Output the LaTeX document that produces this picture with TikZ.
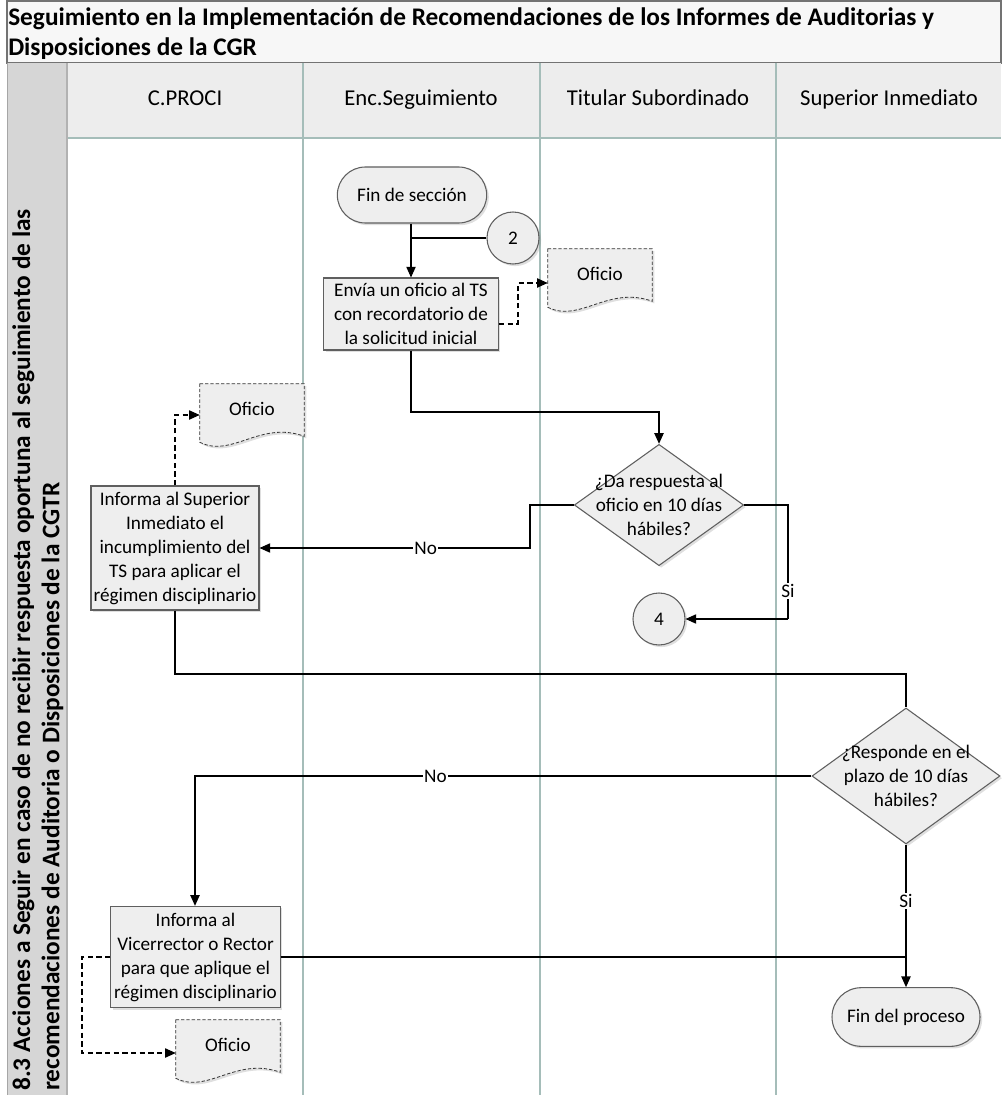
\documentclass[tikz,border=0pt]{standalone}
\usepackage{fontspec}
\setmainfont{Carlito}
\usetikzlibrary{shapes.geometric,shapes.misc,arrows.meta,calc,shadows}
\definecolor{laneC}{HTML}{A5BDB9}
\definecolor{hdrF}{HTML}{EDEDED}
\definecolor{stripF}{HTML}{D6D6D6}
\definecolor{shapeF}{HTML}{EEEEEE}
\definecolor{shapeD}{HTML}{5F5F5F}
\definecolor{titleF}{HTML}{F7F7F7}
\newcommand{\docshapepath}[1]{%
  \draw[docline] (#1.north west) -- (#1.north east) -- ($(#1.south east)+(0,-12)$)
    .. controls ($(#1.south)+(8,-28)$) and ($(#1.south)+(-20,10)$) .. ($(#1.south west)+(0,-6)$) -- cycle;
  \node[doctext] at (#1) {Oficio};}
\begin{document}
\begin{tikzpicture}[x=0.75pt,y=-0.75pt,
  nodefont/.style={font=\fontsize{14.4}{18}\selectfont},
  hdrfont/.style={font=\fontsize{17}{20}\selectfont},
  lane/.style={draw=laneC, line width=0.9pt},
  softshadow/.style={drop shadow={opacity=0.25, shadow xshift=1.6pt, shadow yshift=-1.6pt}},
  procbox/.style={draw=shapeD, fill=shapeF, line width=0.8pt, softshadow, align=center, inner sep=0pt, nodefont},
  termbox/.style={rounded rectangle, draw=shapeD, fill=shapeF, line width=0.8pt, softshadow, inner sep=0pt, nodefont},
  decbox/.style={diamond, draw=shapeD, fill=shapeF, line width=0.8pt, softshadow, inner sep=0pt},
  dectext/.style={align=center, inner sep=0pt, nodefont},
  connbox/.style={circle, draw=shapeD, fill=shapeF, line width=0.8pt, softshadow, inner sep=0pt, minimum size=39pt, nodefont},
  docnode/.style={inner sep=0pt, minimum width=78pt, minimum height=48pt},
  docline/.style={draw=black!80, dashed, dash pattern=on 2.5pt off 1.5pt, fill=shapeF, line width=0.6pt, softshadow},
  doctext/.style={nodefont, yshift=5pt},
  flow/.style={draw=black, line width=0.8pt, -{Triangle[length=8pt,width=7pt]}},
  flowplain/.style={draw=black, line width=0.8pt},
  dashflow/.style={draw=black, line width=0.8pt, dashed, dash pattern=on 4pt off 2.5pt, -{Triangle[length=8pt,width=7pt]}},
  lbl/.style={fill=white, inner sep=1pt, nodefont}
]
\useasboundingbox (0,0) rectangle (1002,1095);
% title
\draw[draw=black!55, fill=titleF, line width=0.8pt] (7,1) rectangle (1001,63);
\node[anchor=west, align=left, inner sep=0pt, font=\fontsize{19}{22.5}\selectfont\bfseries] (title) at (8,34)
  {Seguimiento en la Implementación de Recomendaciones de los Informes de Auditorias y\\Disposiciones de la CGR};
% header row and strip
\fill[hdrF] (67,63) rectangle (1001,138);
\fill[stripF] (7,63) rectangle (67,1095);
\draw[draw=black!35, line width=0.6pt] (7,63) -- (7,1095);
\draw[lane] (67,138) -- (1001,138);
\draw[draw=black!30, line width=0.8pt] (67,63) -- (67,1095);
\foreach \xx in {303,540,776} \draw[lane] (\xx,63) -- (\xx,1095);
\node[hdrfont, anchor=base] (h1) at (185,106) {C.PROCI};
\node[hdrfont, anchor=base] (h2) at (421,106) {Enc.Seguimiento};
\node[hdrfont, anchor=base] (h3) at (658,106) {Titular Subordinado};
\node[hdrfont, anchor=base] (h4) at (889,106) {Superior Inmediato};
% pool label
\node[rotate=90, anchor=north west, align=left, inner sep=0pt, font=\fontsize{19}{22}\selectfont\bfseries] (pool) at (12,1091)
  {8.3 Acciones a Seguir en caso de no recibir respuesta oportuna al seguimiento de las\\recomendaciones de Auditoria o Disposiciones de la CGTR};
% shapes
\node[termbox, minimum width=112pt, minimum height=42pt] (fin1) at (412,195) {Fin de sección};
\node[connbox] (c2) at (513,238) {2};
\node[procbox, minimum width=131pt, minimum height=54pt] (p1) at (411,314) {Envía un oficio al TS\\con recordatorio de\\la solicitud inicial};
\node[docnode] (doc1) at (600,281) {};
\docshapepath{doc1}
\node[decbox, minimum width=127pt, minimum height=91pt] (d1) at (659,505) {};
\node[dectext] (d1t) at (659,505) {¿Da respuesta al\\oficio en 10 días\\hábiles?};
\node[connbox] (c4) at (659,619) {4};
\node[procbox, minimum width=126pt, minimum height=93pt] (p2) at (175,548) {Informa al Superior\\Inmediato el\\incumplimiento del\\TS para aplicar el\\régimen disciplinario};
\node[docnode] (doc2) at (252,416) {};
\docshapepath{doc2}
\node[decbox, minimum width=141pt, minimum height=102pt] (d2) at (906,776) {};
\node[dectext] (d2t) at (906,776) {¿Responde en el\\plazo de 10 días\\hábiles?};
\node[procbox, minimum width=127pt, minimum height=76pt] (p3) at (195.5,957) {Informa al\\Vicerrector o Rector\\para que aplique el\\régimen disciplinario};
\node[docnode] (doc3) at (228,1052) {};
\docshapepath{doc3}
\node[termbox, minimum width=111pt, minimum height=44pt] (fin2) at (906,1017) {Fin del proceso};
% connectors
\draw[flow] (fin1.south -| p1.north) -- (p1.north);
\draw[flowplain] (c2.west) -- (c2.west -| p1.north);
\draw[dashflow] (p1.east |- 0,324) -- (518,324) -- (518,283) -- (doc1.west |- 0,283);
\draw[flow] (p1.south) -- (411,412) -- (659,412) -- (d1.north);
\draw[flowplain] (d1.west) -- (530,505) -- (530,548) -- node[lbl, pos=0.66] (no1) {No} (372,548);
\draw[flow] (372,548) -- (p2.east |- 0,548);
\draw[flowplain] (d1.east) -- (788,505) -- node[lbl, pos=0.75] (si1) {Si} (788,619);
\draw[flow] (788,619) -- (c4.east);
\draw[dashflow] (p2.north) -- (175,415) -- (doc2.west |- 0,415);
\draw[flowplain] (p2.south) -- (175,674) -- (906,674) -- (d2.north);
\draw[flow] (d2.west) -- node[lbl, pos=0.61] (no2) {No} (195,776) -- (p3.north -| 195,0);
\draw[flowplain] (d2.south) -- node[lbl, pos=0.5] (si2) {Si} (906,957);
\draw[flow] (906,957) -- (fin2.north);
\draw[flowplain] (p3.east) -- (906,957);
\draw[dashflow] (p3.west) -- (82,957) -- (82,1053) -- (doc3.west |- 0,1053);
\end{tikzpicture}
\end{document}
